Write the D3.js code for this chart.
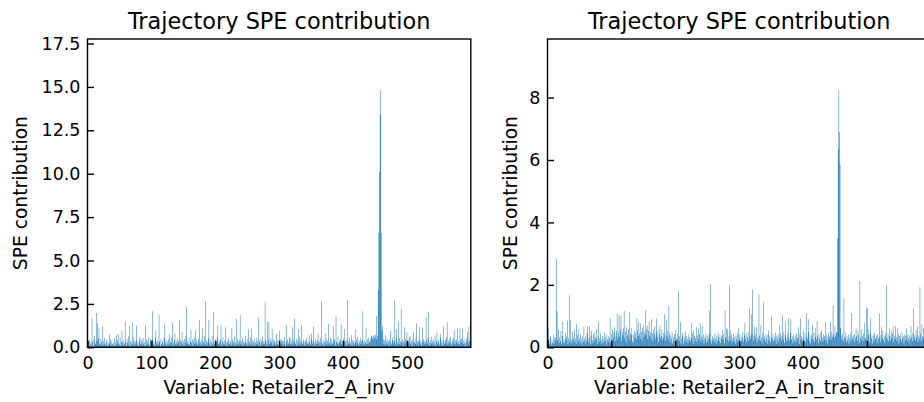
<!DOCTYPE html>
<html lang="en">
<head>
    <meta charset="UTF-8">
    <title>Trajectory SPE contribution</title>
    <script src="https://cdn.jsdelivr.net/npm/d3@7"></script>
    <style>
        body { margin: 0; background: white; }
        svg { display: block; font-family: "DejaVu Sans", sans-serif; }
        .tick text { fill: black; }
    </style>
</head>
<body>
    <svg id="canvas" width="924" height="402"></svg>
    <script>
        // SPE contribution per variable (600 variables each)
        const invValues = [
            0.22,0.35,0.12,0.41,0.08,0.28,0.15,1.68,0.33,0.06,0.45,0.66,0.18,0.25,1.97,0.38,1.39,0.52,1.10,0.21,
            0.14,0.48,0.30,1.20,0.09,0.36,0.19,0.55,0.12,0.27,0.42,0.08,0.31,0.16,0.75,0.24,0.47,0.11,0.35,0.20,
            0.28,0.13,0.52,0.06,0.34,0.71,0.18,0.40,0.80,0.22,0.15,0.58,0.09,0.33,0.97,0.26,0.12,0.44,0.20,1.52,
            0.31,0.10,0.47,0.25,0.62,0.14,1.24,0.37,0.08,0.29,1.45,0.19,0.53,0.11,0.36,0.24,0.42,1.24,0.16,0.30,
            0.07,0.39,0.62,0.21,0.48,0.13,0.34,0.56,0.18,0.27,0.09,1.25,0.44,0.15,0.32,0.60,0.20,0.11,0.50,0.38,
            0.24,0.46,2.08,0.17,0.35,0.10,0.52,0.97,0.28,0.14,0.41,0.22,1.87,0.33,0.08,0.49,0.19,0.37,0.26,0.12,
            0.55,1.39,0.23,0.40,0.09,0.31,0.18,0.47,0.75,0.14,0.36,0.27,0.58,1.43,0.11,0.29,0.43,0.80,0.20,0.34,
            0.16,0.51,0.25,0.38,1.58,0.12,0.44,0.30,0.90,0.21,0.35,0.08,0.48,0.26,0.63,2.34,0.17,0.39,0.22,0.55,
            0.13,0.32,1.00,0.27,0.46,0.10,0.37,0.58,0.19,1.00,0.24,0.42,0.15,0.33,0.50,1.58,0.20,0.29,0.45,0.12,
            1.10,0.36,0.23,0.61,0.18,2.66,0.40,0.14,0.31,0.52,1.58,0.25,0.09,0.43,0.28,0.67,0.16,2.03,0.35,0.21,
            0.47,0.12,0.30,0.56,1.24,0.19,0.38,0.26,0.44,1.27,0.11,0.33,0.60,0.22,0.15,0.41,1.16,0.28,0.09,0.36,
            0.24,0.50,0.17,0.39,0.29,0.13,1.10,0.45,0.21,0.34,0.62,0.10,0.27,1.64,0.18,0.48,0.32,0.14,0.40,1.85,
            0.22,0.37,0.11,0.53,0.26,0.43,0.16,0.65,0.30,0.20,0.47,0.09,1.04,0.35,0.24,0.58,0.13,1.08,0.39,0.18,
            0.31,0.46,0.12,0.27,0.55,0.20,0.38,0.15,1.70,0.33,0.49,0.10,0.42,0.25,0.61,0.17,0.36,0.22,2.63,0.44,
            0.29,0.13,1.49,0.40,1.49,0.19,0.52,0.26,0.35,1.04,0.11,0.47,0.23,0.38,0.16,0.30,0.77,0.21,0.45,0.12,
            0.34,0.97,0.18,0.50,0.27,0.41,0.14,0.36,0.60,0.22,0.09,1.29,0.32,0.46,0.17,0.28,0.53,0.58,0.20,0.39,
            0.13,1.16,0.44,0.25,1.64,0.31,0.18,0.49,0.10,0.37,1.04,0.23,0.56,0.15,0.42,1.29,0.28,0.19,0.47,0.33,
            0.12,0.40,0.26,0.55,0.17,0.35,0.22,0.70,0.30,0.14,0.45,0.80,0.21,0.38,1.20,0.27,0.11,0.50,0.33,0.19,
            0.43,0.77,0.24,0.36,0.13,0.52,2.66,0.29,0.18,0.41,0.09,0.34,0.80,0.25,0.47,0.16,0.38,1.35,0.22,0.31,
            0.56,0.14,0.42,0.27,0.19,1.20,0.35,0.48,0.11,1.81,0.30,0.23,0.61,0.17,0.39,0.26,0.44,1.33,0.20,0.33,
            0.15,0.50,1.04,0.28,0.37,0.12,0.45,2.74,0.21,0.34,0.58,0.18,0.29,0.70,0.10,0.42,0.25,0.36,0.16,1.06,
            0.31,0.47,0.22,0.60,0.13,0.38,0.27,0.53,0.19,0.35,0.44,2.08,0.24,0.15,0.40,0.30,1.10,0.21,0.48,0.17,
            0.56,0.33,0.26,0.42,0.62,0.70,0.58,0.45,0.70,0.66,0.52,0.74,1.80,0.45,0.66,3.28,6.6,10.1,13.4,14.8,
            6.6,0.95,1.24,0.48,0.19,0.40,0.70,0.14,0.33,0.52,0.22,0.38,0.11,0.45,0.97,0.28,0.17,0.41,0.60,0.24,
            0.36,2.70,0.13,0.47,1.04,0.29,0.20,1.47,0.55,0.18,0.34,2.22,0.26,0.43,0.12,0.38,1.16,0.23,0.50,0.31,
            0.85,0.16,0.40,0.27,0.58,0.62,0.21,0.35,0.11,0.46,0.90,0.25,0.33,0.19,0.52,1.39,0.14,0.37,0.28,0.44,
            1.16,0.22,0.39,0.10,1.16,0.31,0.48,0.17,0.36,0.26,1.72,0.43,0.20,0.55,2.05,0.29,0.13,0.41,0.24,0.62,
            0.34,0.18,0.47,0.27,0.66,0.12,0.38,0.89,0.22,0.45,0.30,0.16,0.53,0.77,0.25,0.40,0.11,1.20,0.35,0.19,
            0.44,0.28,0.58,1.43,0.15,0.37,0.23,0.49,0.62,0.31,0.12,0.42,0.26,0.54,1.00,0.18,0.39,0.29,0.47,1.10,
            0.21,0.35,0.14,1.08,0.43,0.27,0.52,1.10,0.19,0.38,0.25,0.46,0.12,0.33,0.56,0.90,0.22,1.20,0.41,0.30
        ];
        const transitValues = [
            0.60,0.62,0.25,0.12,0.30,0.36,0.08,0.22,0.15,0.40,0.11,0.28,0.19,0.33,2.83,1.16,0.24,0.58,0.14,0.31,
            0.20,0.53,0.09,0.37,0.81,0.16,0.27,0.12,0.47,0.23,0.35,0.85,0.10,0.29,1.67,0.18,0.87,0.26,0.13,0.50,
            0.22,0.34,0.58,0.15,0.28,0.75,0.11,0.39,0.58,0.20,0.30,0.14,0.42,0.25,0.09,0.33,0.18,0.66,0.27,0.12,
            0.36,0.21,0.45,0.66,0.16,0.29,0.68,0.10,0.38,0.53,0.24,0.13,0.41,0.50,0.19,0.32,0.26,0.58,0.11,0.35,
            0.81,0.17,0.30,0.44,0.22,0.12,0.37,0.27,0.15,0.48,0.20,0.33,0.09,0.40,0.25,0.18,0.35,0.28,0.93,0.14,
            0.42,0.23,0.58,0.31,0.49,0.64,0.19,0.37,0.52,1.07,0.26,0.45,1.02,0.33,0.56,1.02,0.21,0.48,0.38,0.60,
            1.17,0.29,0.51,0.18,0.64,0.43,0.35,0.57,1.13,0.24,0.46,0.39,0.62,0.20,0.14,0.41,0.53,0.30,0.47,0.25,
            0.93,0.55,0.36,0.81,0.44,0.28,0.77,0.50,0.22,0.63,0.71,0.34,0.47,1.19,0.40,0.58,0.71,0.26,0.52,0.82,
            0.37,0.49,0.30,0.90,0.45,0.21,0.56,0.39,0.66,0.27,0.48,0.92,0.33,0.55,0.18,0.43,0.68,0.29,0.36,0.58,
            0.24,0.47,0.32,1.07,0.41,0.19,0.87,0.35,0.52,0.26,1.33,0.44,0.15,0.38,0.28,0.49,0.12,0.34,0.21,0.40,
            0.55,0.17,0.30,0.26,0.43,1.81,0.20,0.35,0.81,0.13,0.28,0.46,0.38,0.09,0.32,0.22,0.50,0.16,0.37,0.27,
            0.14,0.41,0.24,0.33,0.19,0.79,0.29,0.45,0.11,0.55,0.36,0.21,0.30,0.64,0.17,0.39,0.61,0.26,0.42,0.77,
            0.18,0.34,0.68,0.23,0.40,0.12,0.31,0.27,0.45,0.15,0.37,0.20,0.29,0.43,1.16,2.03,0.25,0.13,0.36,0.22,
            0.30,0.16,0.44,0.27,0.11,0.38,0.21,0.47,0.33,0.19,0.41,0.14,0.28,0.36,0.55,0.24,0.43,0.12,1.16,0.32,
            0.61,0.26,0.58,0.18,0.35,1.98,0.22,0.55,0.40,0.15,0.29,0.44,0.20,0.33,0.12,0.38,0.27,0.46,0.17,0.61,
            0.25,0.40,0.13,0.34,0.22,0.47,0.30,0.18,0.39,0.77,0.26,0.44,0.15,0.33,0.51,0.21,1.27,0.38,0.28,1.07,
            0.45,1.86,0.19,0.36,0.66,0.27,0.42,0.64,0.16,0.33,0.24,1.70,0.38,0.20,0.71,0.30,0.13,0.47,1.44,0.26,
            0.35,0.18,0.43,0.29,0.12,0.40,0.55,0.22,0.37,0.15,0.31,1.02,0.26,0.44,0.19,0.34,0.23,0.48,0.11,0.38,
            0.27,0.41,0.16,0.71,0.30,0.45,0.21,0.36,1.03,0.25,0.50,0.14,0.39,0.82,0.28,0.19,0.44,0.93,0.32,0.22,
            0.47,0.90,0.26,0.35,0.13,0.41,0.29,0.20,0.38,0.16,0.45,0.27,0.33,0.64,0.11,0.42,0.92,0.24,0.36,0.18,
            0.30,0.55,0.21,0.44,0.15,1.09,0.34,0.26,0.48,0.90,0.19,0.37,0.12,0.40,0.28,0.71,0.23,0.46,0.17,0.61,
            0.33,0.25,0.84,0.38,0.14,0.42,0.29,0.20,0.47,0.55,0.31,0.18,0.43,0.26,0.36,0.81,0.22,0.40,0.13,0.34,
            0.45,0.27,0.38,0.81,0.24,0.50,0.33,1.35,0.42,0.30,0.68,0.36,0.47,0.50,3.49,6.36,8.23,6.90,5.88,0.62,
            0.38,0.25,0.44,0.19,1.57,0.33,0.27,0.48,0.15,0.36,0.22,0.41,0.12,0.30,0.45,0.20,1.09,0.34,0.26,0.39,
            0.17,0.43,0.28,0.61,0.35,0.21,0.53,0.40,0.14,2.12,0.31,0.24,0.58,0.37,0.19,0.45,0.77,0.26,0.33,1.28,
            0.22,1.25,0.39,0.58,0.16,0.44,0.93,0.28,0.35,0.12,0.41,0.20,0.47,0.30,0.25,0.38,0.14,0.43,0.27,0.33,
            1.09,0.18,0.40,0.64,0.29,0.55,0.23,0.37,0.15,0.46,0.31,1.99,0.26,0.42,0.19,0.61,0.35,0.22,0.55,0.30,
            0.44,0.68,0.16,0.38,0.27,0.68,0.33,0.21,0.61,0.45,0.13,0.36,0.25,0.40,0.18,0.47,0.29,0.35,0.12,0.41,
            0.24,0.37,0.61,0.20,0.43,0.30,0.15,0.39,0.26,0.68,0.34,0.19,0.46,1.25,0.28,0.40,0.22,0.55,0.33,0.66,
            0.17,0.38,0.27,1.92,0.44,0.21,0.75,0.35,0.29,0.60,0.42,0.18,0.36,0.25,0.47,0.31,0.20,0.39,0.28,0.45
        ];

        const titles = ["Trajectory SPE contribution", "Trajectory SPE contribution"];
        const xLabels = ["Variable: Retailer2_A_inv", "Variable: Retailer2_A_in_transit"];
        const yLabel = "SPE contribution";
        const xTicks = [0, 100, 200, 300, 400, 500];
        const invTicks = [0, 2.5, 5, 7.5, 10, 12.5, 15, 17.5];
        const transitTicks = [0, 2, 4, 6, 8];

        const svg = d3.select("#canvas");
        const barColor = "#1f77b4";
        const plotTop = 39, plotBottom = 347.3, plotW = 383.3;

        const panels = [
            {left: 87.5, values: invValues, ticks: invTicks, fmt: d3.format(".1f"), title: titles[0], xLabel: xLabels[0], yLabelX: 26.6},
            {left: 547.5, values: transitValues, ticks: transitTicks, fmt: d3.format("d"), title: titles[1], xLabel: xLabels[1], yLabelX: 517}
        ];

        panels.forEach((p, k) => {
            const x = d3.scaleLinear().domain([0, p.values.length]).range([p.left, p.left + plotW]);
            const y = d3.scaleLinear().domain([0, d3.max(p.values) * 1.2]).range([plotBottom, plotTop]);

            const clipId = "clip" + k;
            svg.append("clipPath").attr("id", clipId)
                .append("rect")
                .attr("x", p.left).attr("y", plotTop)
                .attr("width", plotW).attr("height", plotBottom - plotTop);

            // all bars of a panel go into one path, so neighbouring thin bars
            // merge into a solid base like the raster original
            const bars = d3.path();
            p.values.forEach((d, i) => {
                bars.rect(x(i - 0.4), y(d), x(0.8) - x(0), y(0) - y(d));
            });
            svg.append("path")
                .attr("clip-path", `url(#${clipId})`)
                .attr("d", bars.toString())
                .attr("fill", barColor);

            // axes, ticks pointing inward
            const yAxis = svg.append("g")
                .attr("transform", `translate(${p.left},0)`)
                .call(d3.axisLeft(y).tickValues(p.ticks).tickFormat(p.fmt)
                    .tickSize(-6.5).tickPadding(7));
            const xAxis = svg.append("g")
                .attr("transform", `translate(0,${plotBottom})`)
                .call(d3.axisBottom(x).tickValues(xTicks).tickFormat(d3.format("d"))
                    .tickSize(-6.5).tickPadding(9));
            [yAxis, xAxis].forEach(a => {
                a.select(".domain").remove();
                a.selectAll(".tick line").attr("stroke", "black").attr("stroke-width", 1.4);
                a.selectAll(".tick text").attr("font-size", "17.5px")
                    .attr("font-family", "DejaVu Sans");
            });

            // frame
            svg.append("rect")
                .attr("x", p.left).attr("y", plotTop)
                .attr("width", plotW).attr("height", plotBottom - plotTop)
                .attr("fill", "none")
                .attr("stroke", "black")
                .attr("stroke-width", 1.4);

            svg.append("text")
                .attr("x", p.left + plotW / 2).attr("y", 28.5)
                .attr("text-anchor", "middle")
                .attr("font-size", "22.4px")
                .text(p.title);

            svg.append("text")
                .attr("x", p.left + plotW / 2).attr("y", 394)
                .attr("text-anchor", "middle")
                .attr("font-size", "18.7px")
                .text(p.xLabel);

            svg.append("text")
                .attr("transform", `translate(${p.yLabelX},${(plotTop + plotBottom) / 2}) rotate(-90)`)
                .attr("text-anchor", "middle")
                .attr("font-size", "18.7px")
                .text(yLabel);
        });
    </script>
</body>
</html>
